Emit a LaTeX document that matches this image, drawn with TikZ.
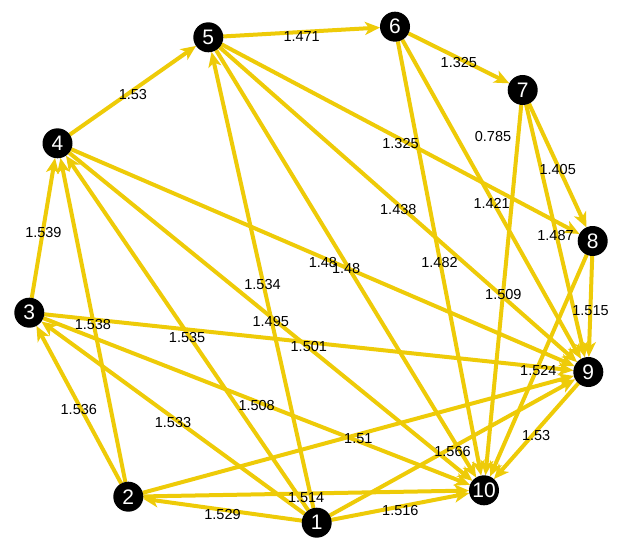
\documentclass[tikz,border=0pt]{standalone}
\usepackage{fontspec}
\setmainfont{Liberation Sans}
\usetikzlibrary{arrows.meta}
\definecolor{edgeyel}{RGB}{238,203,8}
\pgfdeclarelayer{edgelayer}
\pgfdeclarelayer{labellayer}
\pgfsetlayers{edgelayer,labellayer,main}
\begin{document}
\begin{tikzpicture}[x=1pt,y=-1pt,
  vtx/.style={circle,fill=black,text=white,minimum size=30pt,inner sep=0pt,outer sep=0pt,font=\fontsize{21}{21}\selectfont},
  arc/.style={draw=edgeyel,line width=4pt,-{Stealth[length=15pt,width=13pt,inset=4pt]}},
  lbl/.style={font=\fontsize{14.5}{15}\selectfont,text=black,inner sep=0pt,yshift=-4.5pt}]
\useasboundingbox (0,0) rectangle (618,540);
\node[vtx] (n1) at (316.7,522.7) {1};
\node[vtx] (n2) at (128.3,496.7) {2};
\node[vtx] (n3) at (29.3,312.7) {3};
\node[vtx] (n4) at (57.5,143.3) {4};
\node[vtx] (n5) at (208.3,37.3) {5};
\node[vtx] (n6) at (395,26.7) {6};
\node[vtx] (n7) at (522.7,90) {7};
\node[vtx] (n8) at (592.7,241) {8};
\node[vtx] (n9) at (588.3,372) {9};
\node[vtx] (n10) at (484,490.3) {10};
\begin{pgfonlayer}{edgelayer}
\foreach \a/\b in {1/2,1/10,1/9,1/5,1/4,1/3,2/3,2/4,2/10,2/9,3/4,3/9,3/10,4/5,4/9,4/10,5/6,5/8,5/9,5/10,6/7,6/9,6/10,7/8,7/9,7/10,8/9,8/10,9/10}
  \draw[arc] (n\a) -- (n\b);
\end{pgfonlayer}
\begin{pgfonlayer}{labellayer}
\foreach \a/\b/\w in {1/2/1.529,1/10/1.516,1/9/1.566,1/5/1.534,1/4/1.535,1/3/1.533,2/3/1.536,2/4/1.538,2/10/1.514,2/9/1.51,3/4/1.539,3/9/1.501,3/10/1.508,4/5/1.53,4/9/1.48,4/10/1.495,5/6/1.471,5/8/1.325,5/9/1.438,5/10/1.48,6/7/1.325,6/9/1.421,6/10/1.482,7/8/1.405,7/9/1.487,7/10/1.509,8/9/1.515,8/10/1.524,9/10/1.53}
  \path (n\a) -- (n\b) node[lbl,midway] {\w};
\node[lbl,yshift=4.5pt] (l785) at (493,137) {0.785};
\end{pgfonlayer}
\end{tikzpicture}
\end{document}
